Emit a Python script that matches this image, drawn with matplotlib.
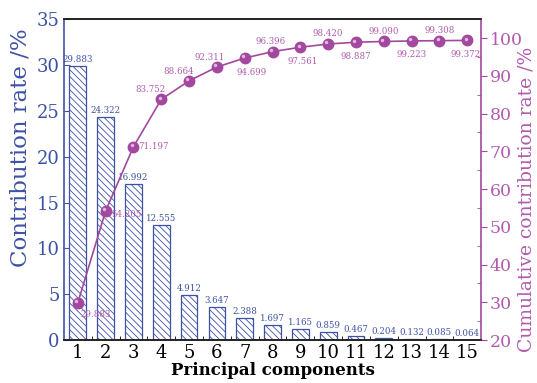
import matplotlib
matplotlib.use("Agg")
import matplotlib.pyplot as plt
from matplotlib.transforms import ScaledTranslation
import numpy as np

components = list(range(1, 16))
contribution = [29.883, 24.322, 16.992, 12.555, 4.912, 3.647, 2.388, 1.697,
                1.165, 0.859, 0.467, 0.204, 0.132, 0.085, 0.064]
cumulative = [29.883, 54.205, 71.197, 83.752, 88.664, 92.311, 94.699, 96.396,
              97.561, 98.420, 98.887, 99.090, 99.223, 99.308, 99.372]
contrib_labels = ["29.883", "24.322", "16.992", "12.555", "4.912", "3.647", "2.388", "1.697",
                  "1.165", "0.859", "0.467", "0.204", "0.132", "0.085", "0.064"]
cum_labels = ["29.883", "54.205", "71.197", "83.752", "88.664", "92.311", "94.699", "96.396",
              "97.561", "98.420", "98.887", "99.090", "99.223", "99.308", "99.372"]

BLUE = "#3d52a6"
PURPLE = "#a2489f"
PURPLE_T = "#b15caf"

plt.rcParams['font.family'] = ['DejaVu Serif']
plt.rcParams['hatch.linewidth'] = 0.6
plt.rcParams['hatch.color'] = BLUE

fig = plt.figure(figsize=(5.37, 3.83), dpi=100)
ax = fig.add_axes([0.119, 0.112, 0.777, 0.838])
ax2 = ax.twinx()

bars = ax.bar(components, contribution, width=0.6, facecolor='white',
              edgecolor=BLUE, linewidth=0.9, hatch='\\\\\\\\\\', zorder=2)
for x, v, t in zip(components, contribution, contrib_labels):
    ax.annotate(t, (x, v), xytext=(0, 2), textcoords='offset pixels',
                ha='center', va='bottom', fontsize=6.2, color=BLUE)

ax.set_xlim(0.5, 15.5)
ax.set_ylim(0, 35)
ax.set_xticks(components)
ax.set_xticks(np.arange(1.5, 15.5, 1.0), minor=True)
ax.set_yticks(np.arange(0, 36, 5))
ax.tick_params(axis='x', which='both', direction='in', length=3, colors='black',
               labelsize=13, pad=3)
ax.tick_params(axis='x', which='major', length=0)
ax.tick_params(axis='y', which='both', direction='in', length=4, color=BLUE,
               labelcolor=BLUE, labelsize=13, pad=3)
for lab in ax.get_xticklabels():
    lab.set_color('black')

ax2.plot(components, cumulative, color=PURPLE, lw=1.2, marker='o', ms=7.5,
         mfc=PURPLE, mec=PURPLE, zorder=3)
hl = ax2.transData + ScaledTranslation(-1.2 / 72, 1.2 / 72, fig.dpi_scale_trans)
ax2.plot(components, cumulative, ls='none', marker='o', ms=2.5, mfc='#e9c3e7',
         mec='none', alpha=0.9, transform=hl, zorder=4)

offsets = [(3, -12, 'left'), (6, -4, 'left'), (5, 0, 'left'), (-11, 10, 'center'),
           (-10, 9, 'center'), (-7, 10, 'center'), (7, -14, 'center'), (-2, 10, 'center'),
           (2, -14, 'center'), (0, 10, 'center'), (0, -14, 'center'), (0, 10, 'center'),
           (0, -14, 'center'), (0, 10, 'center'), (-2, -14, 'center')]
for x, v, t, (dx, dy, ha) in zip(components, cumulative, cum_labels, offsets):
    ax2.annotate(t, (x, v), xytext=(dx, dy), textcoords='offset pixels',
                 ha=ha, va='center', fontsize=6.2, color=PURPLE_T, zorder=5)

ax2.set_ylim(20, 105)
ax2.set_yticks(np.arange(20, 101, 10))
ax2.set_yticks(np.arange(25, 101, 10), minor=True)
ax2.tick_params(axis='y', which='major', direction='out', length=4, color=PURPLE,
                labelcolor=PURPLE_T, labelsize=12.5, pad=2)
ax2.tick_params(axis='y', which='minor', direction='in', length=3, color=PURPLE)

ax.spines['left'].set_color(BLUE)
ax.spines['right'].set_visible(False)
ax2.spines['left'].set_visible(False)
ax2.spines['right'].set_color(PURPLE)
ax2.spines['top'].set_color('#222222')
ax2.spines['bottom'].set_color('#222222')
ax.spines['top'].set_color('#222222')
ax.spines['bottom'].set_color('#222222')
for s in list(ax.spines.values()) + list(ax2.spines.values()):
    s.set_linewidth(1.2)

ax.set_xlabel('Principal components', fontsize=12, fontweight='bold', color='black',
              labelpad=0)
ax.set_ylabel('Contribution rate /%', fontsize=16.5, color=BLUE)
ax.yaxis.set_label_coords(-0.078, 0.60)
ax2.set_ylabel('Cumulative contribution rate /%', fontsize=13.5, color=PURPLE_T)
ax2.yaxis.set_label_coords(1.088, 0.44)

fig.savefig('out.png', dpi=100)
